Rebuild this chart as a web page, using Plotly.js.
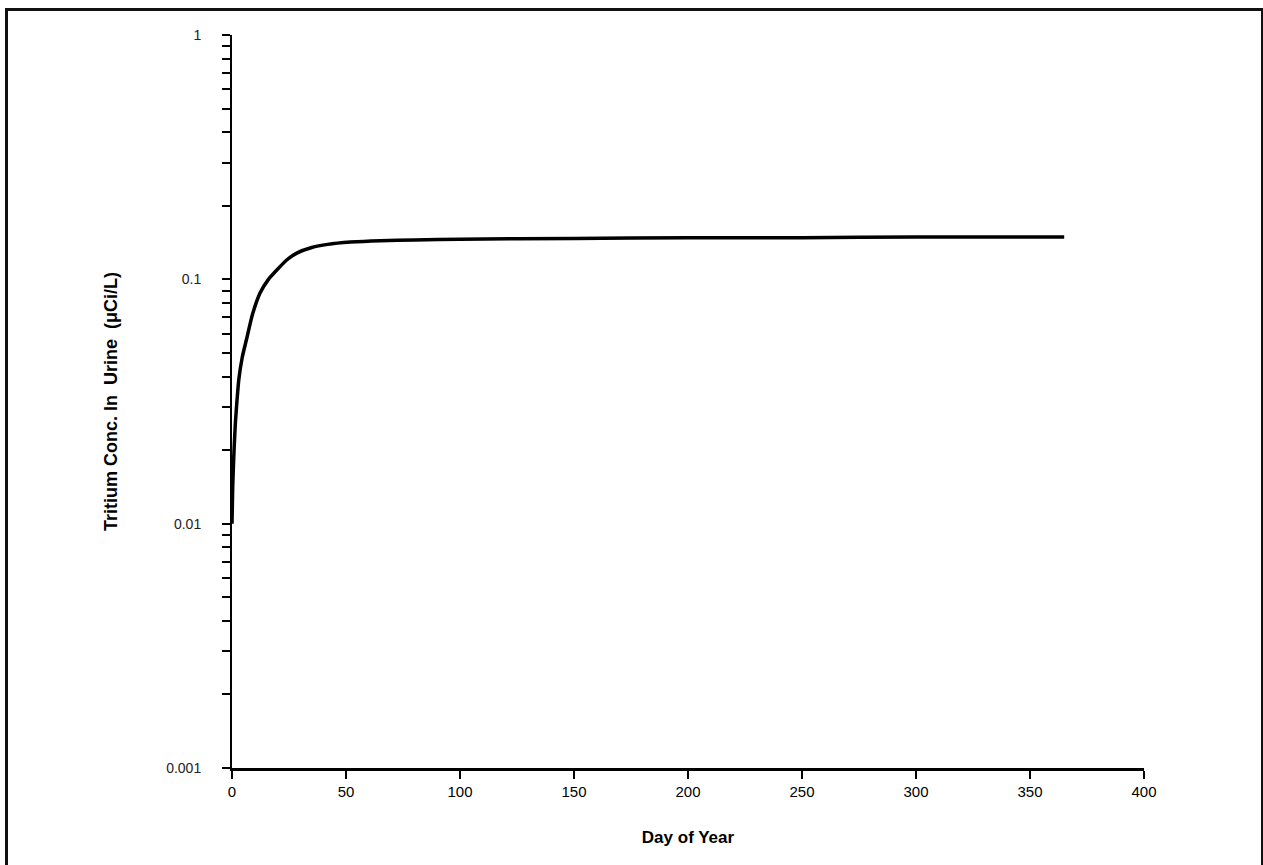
<!DOCTYPE html>
<html>
<head>
<meta charset="utf-8">
<script src="https://cdn.plot.ly/plotly-3.0.1.min.js"></script>
<style>
html,body{margin:0;padding:0;background:#fff;}
#wrap{position:relative;width:1263px;height:865px;}
#chart{position:absolute;left:0;top:0;width:1263px;height:865px;}
#frame{position:absolute;left:5px;top:8px;width:1253px;height:870px;border-left:3px solid #111;border-top:3px solid #111;border-right:2px solid #111;pointer-events:none;}
</style>
</head>
<body>
<div id="wrap"><div id="chart"></div><div id="frame"></div></div>
<script>
const days = [0, 0.3, 0.7, 1, 1.5, 2.2, 3, 4.5, 6.4, 9, 12.3, 16, 19.6, 24, 28.4, 35, 42, 52, 65, 80, 100, 150, 200, 250, 300, 365];
const conc = [0.010, 0.014, 0.018, 0.021, 0.026, 0.032, 0.039, 0.048, 0.057, 0.072, 0.088, 0.100, 0.109, 0.120, 0.128, 0.135, 0.139, 0.142, 0.144, 0.145, 0.146, 0.147, 0.148, 0.148, 0.149, 0.149];
const xTicks = [0, 50, 100, 150, 200, 250, 300, 350, 400];
const yMajor = [0.001, 0.01, 0.1, 1];
const yMajorText = ['0.001', '0.01', '0.1', '1'];

const yVals = [], yText = [];
for (let d = 0; d < 3; d++) {
  for (let m = 1; m <= 9; m++) {
    const v = yMajor[d] * m;
    yVals.push(v);
    yText.push(m === 1 ? yMajorText[d] : '');
  }
}
yVals.push(1); yText.push('1');

const trace = {
  x: days, y: conc, type: 'scatter', mode: 'lines',
  line: {color: '#000', width: 3.5, shape: 'spline', smoothing: 0.6},
  hoverinfo: 'skip'
};

const layout = {
  width: 1263, height: 865,
  margin: {l: 232, r: 119, t: 35, b: 97},
  paper_bgcolor: '#fff', plot_bgcolor: '#fff',
  showlegend: false,
  font: {family: 'Liberation Sans, Arial, sans-serif', color: '#000'},
  xaxis: {
    range: [0, 400], tickvals: xTicks, ticktext: xTicks.map(String),
    showgrid: false, zeroline: false, showline: true, linecolor: '#000', linewidth: 3,
    ticks: 'outside', ticklen: 8, tickwidth: 2, tickcolor: '#000',
    tickfont: {size: 15, family: 'Liberation Sans, Arial, sans-serif', color: '#000'},
    title: {text: '<b>Day of Year</b>', font: {size: 17, color: '#000'}, standoff: 33}
  },
  yaxis: {
    type: 'log', range: [-3, 0], tickvals: yVals, ticktext: yText,
    showgrid: false, zeroline: false, showline: true, linecolor: '#000', linewidth: 2,
    ticks: 'outside', ticklen: 8, tickwidth: 2, tickcolor: '#000',
    ticklabelstandoff: 18,
    tickfont: {size: 14, family: 'Liberation Sans, Arial, sans-serif', color: '#222'},
    title: {text: '<b>Tritium Conc. In  Urine  (μCi/L)</b>', font: {size: 18, color: '#000'}, standoff: 44}
  }
};

Plotly.newPlot('chart', [trace], layout, {staticPlot: true, displayModeBar: false});
</script>
</body>
</html>
